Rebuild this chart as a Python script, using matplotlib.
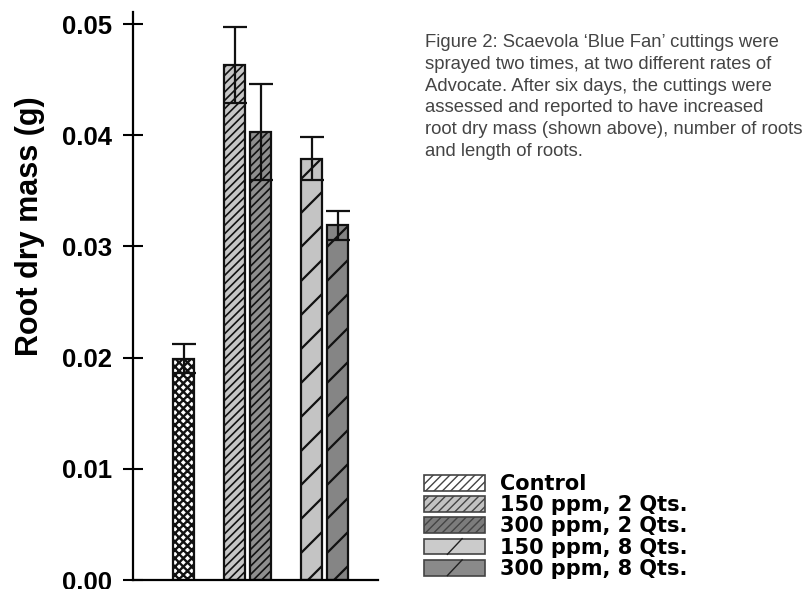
import matplotlib
matplotlib.use("Agg")
import matplotlib.pyplot as plt
import matplotlib.transforms as mtransforms
from matplotlib.patches import Patch, Rectangle
from matplotlib.lines import Line2D
from matplotlib.collections import LineCollection
from matplotlib.legend_handler import HandlerPatch

plt.rcParams['font.family'] = ['Liberation Sans', 'DejaVu Sans']

# ---- data ----
labels = ['Control', '150 ppm, 2 Qts.', '300 ppm, 2 Qts.', '150 ppm, 8 Qts.', '300 ppm, 8 Qts.']
means = [0.0199, 0.0463, 0.0403, 0.0379, 0.0319]
errors = [0.0013, 0.0034, 0.0043, 0.0019, 0.0013]
yticks = [0.00, 0.01, 0.02, 0.03, 0.04, 0.05]
caption = ("Figure 2: Scaevola \u2018Blue Fan\u2019 cuttings were\n"
           "sprayed two times, at two different rates of\n"
           "Advocate. After six days, the cuttings were\n"
           "assessed and reported to have increased\n"
           "root dry mass (shown above), number of roots\n"
           "and length of roots.")

# ---- styles / layout ----
positions = [50.5, 101.5, 127.5, 178.5, 204.5]
bar_width = 21
facecolors = ['white', '#c6c6c6', '#8e8e8e', '#c4c4c4', '#858585']
hatches = ['xxxx', '////', '////', '', '']
sparse = [False, False, False, True, True]
leg_face = ['white', '#c2c2c2', '#7c7c7c', '#cbcbcb', '#8a8a8a']
leg_hatch = ['////', '////', '////', '', '']

W, H = 808, 589
fig = plt.figure(figsize=(W / 100, H / 100), dpi=100)
ax = fig.add_axes([133 / W, 9 / H, 245 / W, 568 / H])

ymin, ymax = 0.0, 0.05108
ax.set_xlim(0, 245)
ax.set_ylim(ymin, ymax)

bars = []
for i in range(len(means)):
    b = ax.bar(positions[i], means[i], width=bar_width, color=facecolors[i],
               edgecolor='#111111', linewidth=1.6, hatch=hatches[i], zorder=2)
    p = b.patches[0]
    try:
        p.set_hatch_linewidth(1.7 if i == 0 else 1.2)
    except Exception:
        pass
    bars.append(p)

ax.errorbar(positions, means, yerr=errors, fmt='none', ecolor='#111111',
            elinewidth=1.6, capsize=8.5, capthick=1.6, zorder=3)

# sparse diagonal hatch for the 8 Qts. bars (display-space lines clipped to bar)
spacing = 34
for i, p in enumerate(bars):
    if not sparse[i]:
        continue
    bb = p.get_window_extent()
    x0, y0, x1, y1 = bb.x0, bb.y0, bb.x1, bb.y1
    w = x1 - x0
    segs = []
    yb = y0 - w + 14
    while yb < y1:
        segs.append([(x0, yb), (x1, yb + w)])
        yb += spacing
    lc = LineCollection(segs, colors='#111111', linewidths=1.6,
                        transform=mtransforms.IdentityTransform(), zorder=2.5)
    ax.add_collection(lc)
    lc.set_clip_path(p)

# axes styling
for s in ['top', 'right']:
    ax.spines[s].set_visible(False)
ax.spines['left'].set_linewidth(1.6)
ax.spines['bottom'].set_linewidth(1.6)
ax.set_xticks([])
ax.set_yticks(yticks)
ax.set_yticklabels(['%.2f' % t for t in yticks], fontsize=18.5, fontweight='bold')
ax.tick_params(axis='y', direction='inout', length=14, width=1.5, pad=8)
ax.set_ylabel('Root dry mass (g)', fontsize=22, fontweight='bold')
ax.yaxis.set_label_coords(-0.36, 0.623)


# legend
class SparseHandler(HandlerPatch):
    def create_artists(self, legend, orig_handle, xdescent, ydescent, width, height, fontsize, trans):
        r = Rectangle((-xdescent, -ydescent), width, height,
                      facecolor=orig_handle.get_facecolor(), edgecolor='#444444',
                      linewidth=1.2, transform=trans)
        ln = Line2D([-xdescent + width * 0.38, -xdescent + width * 0.62],
                    [-ydescent, -ydescent + height], color='#222222', lw=1.0,
                    transform=trans)
        return [r, ln]


handles = []
hmap = {}
for i in range(len(labels)):
    ph = Patch(facecolor=leg_face[i], edgecolor='#444444', hatch=leg_hatch[i], linewidth=1.2)
    handles.append(ph)
    if sparse[i]:
        hmap[ph] = SparseHandler()

leg = fig.legend(handles, labels, handler_map=hmap, loc='upper left',
                 bbox_to_anchor=(424 / W, 1 - 474 / H), frameon=False,
                 prop={'family': 'DejaVu Sans', 'weight': 'bold', 'size': 15},
                 handlelength=2.95, handleheight=0.78, handletextpad=0.72,
                 labelspacing=0.06, borderpad=0, borderaxespad=0)

fig.text(425 / W, 1 - 34 / H, caption, ha='left', va='top', fontsize=13.3,
         color='#444444', linespacing=1.37)

fig.savefig('out.png', dpi=100)
